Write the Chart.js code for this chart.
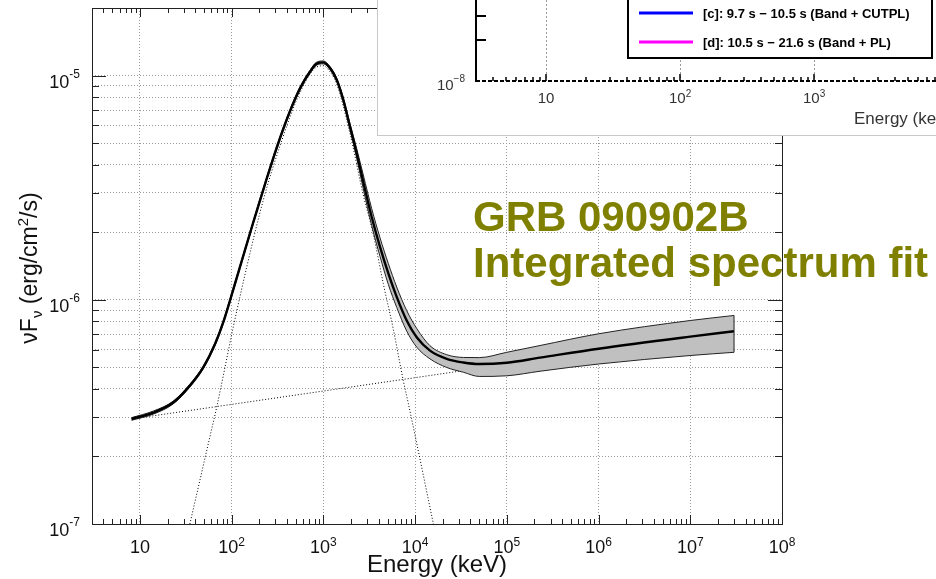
<!DOCTYPE html>
<html>
<head>
<meta charset="utf-8">
<title>GRB 090902B integrated spectrum fit</title>
<script src="https://cdn.jsdelivr.net/npm/chart.js@4.4.1/dist/chart.umd.min.js"></script>
<style>
  html, body { margin: 0; padding: 0; background: #fff; overflow: hidden; }
  #wrap { position: relative; width: 936px; height: 579px; }
  #main { position: absolute; left: 0; top: 0; }
  #insetBox { position: absolute; left: 377px; top: -1px; width: 600px; height: 135px;
              border: 1px solid #c8c8c8; background: #fff; overflow: hidden; }
</style>
</head>
<body>
<div id="wrap">
  <canvas id="main" width="936" height="579"></canvas>
  <div id="insetBox"><canvas id="inset" width="600" height="135"></canvas></div>
</div>
<script>
// energy in keV, nuFnu in erg/cm2/s
const totalE = [8.1, 14, 23, 35, 49, 66, 81, 104, 134, 172, 241, 336, 432, 556, 714, 845, 998, 1180, 1396,
  1648, 1950, 2307, 2723, 3362, 4143, 5104, 6299, 8094, 10400, 14520, 22100, 33570, 50000, 1e5, 2.3e5, 1e6, 1e7, 3e7];
const totalF = [2.94e-7, 3.14e-7, 3.48e-7, 4.14e-7, 4.99e-7, 6.36e-7, 7.94e-7, 1.11e-6, 1.574e-6, 2.216e-6, 3.47e-6,
  5.25e-6, 6.93e-6, 8.76e-6, 1.039e-5, 1.130e-5, 1.144e-5, 1.08e-5, 9.58e-6,
  7.79e-6, 5.92e-6, 4.50e-6, 3.35e-6, 2.34e-6, 1.72e-6, 1.31e-6, 1.03e-6, 8.08e-7, 6.80e-7, 5.93e-7, 5.45e-7,
  5.25e-7, 5.17e-7, 5.24e-7, 5.52e-7, 6.05e-7, 6.85e-7, 7.24e-7];
// 1 sigma butterfly, same energies
const upperF = [2.98e-7, 3.19e-7, 3.53e-7, 4.20e-7, 5.06e-7, 6.46e-7, 8.06e-7, 1.127e-6, 1.598e-6, 2.249e-6, 3.52e-6,
  5.33e-6, 7.03e-6, 8.89e-6, 1.055e-5, 1.147e-5, 1.161e-5, 1.096e-5, 9.74e-6,
  7.95e-6, 6.10e-6, 4.72e-6, 3.60e-6, 2.55e-6, 1.89e-6, 1.45e-6, 1.14e-6, 8.95e-7, 7.45e-7, 6.24e-7, 5.69e-7,
  5.53e-7, 5.52e-7, 5.83e-7, 6.25e-7, 7.05e-7, 8.08e-7, 8.51e-7];
const lowerF = [2.90e-7, 3.09e-7, 3.43e-7, 4.08e-7, 4.92e-7, 6.26e-7, 7.82e-7, 1.093e-6, 1.550e-6, 2.183e-6, 3.42e-6,
  5.17e-6, 6.83e-6, 8.63e-6, 1.023e-5, 1.113e-5, 1.127e-5, 1.064e-5, 9.42e-6,
  7.63e-6, 5.74e-6, 4.28e-6, 3.12e-6, 2.14e-6, 1.56e-6, 1.17e-6, 9.25e-7, 7.25e-7, 6.15e-7, 5.45e-7, 4.99e-7,
  4.75e-7, 4.55e-7, 4.58e-7, 4.80e-7, 5.17e-7, 5.64e-7, 5.83e-7];
// Band component (dotted)
const bandE = [35, 60.5, 68.6, 104, 146, 221, 336, 556, 845, 998, 1180, 1396, 1950, 2723, 3491, 4498, 5781, 7430, 8430, 15830];
const bandF = [1.0e-7, 2.65e-7, 3.31e-7, 7.54e-7, 1.40e-6, 2.78e-6, 4.85e-6, 8.40e-6, 1.091e-5, 1.105e-5, 1.04e-5,
  9.18e-6, 5.51e-6, 2.93e-6, 1.97e-6, 1.18e-6, 7.4e-7, 4.36e-7, 3.45e-7, 1.0e-7];
// power-law component (dotted)
const plE = [8.1, 3e7];
const plF = [2.94e-7, 7.24e-7];

const xDecades = [10, 1e2, 1e3, 1e4, 1e5, 1e6, 1e7, 1e8];
const xDecadeExp = ['', '2', '3', '4', '5', '6', '7', '8'];
const yDecades = [1e-7, 1e-6, 1e-5];
const yDecadeExp = ['-7', '-6', '-5'];
const xTitle = 'Energy (keV)';
const titleLines = ['GRB 090902B', 'Integrated spectrum fit'];

// piece of another figure lying over the top right corner
const insetLabels = ['[c]: 9.7 s \u2212 10.5 s (Band + CUTPL)', '[d]: 10.5 s \u2212 21.6 s (Band + PL)'];
const insetColors = ['#0000ff', '#ff00ff'];
const insetXDecades = [10, 1e2, 1e3, 1e4];
const insetXExp = ['', '2', '3', '4'];
const insetYDecades = [1e-8];
const insetYExp = ['\u22128'];

const FONT = "'Liberation Sans', Arial, Helvetica, sans-serif";
const GRID = '#9a9a9a';

function logTicks(min, max) {
  const out = [];
  for (let e = Math.floor(Math.log10(min)); e <= Math.ceil(Math.log10(max)); e++) {
    for (let k = 1; k < 10; k++) {
      const v = k * Math.pow(10, e);
      if (v >= min * 0.999 && v <= max * 1.001) out.push({ value: v, major: k === 1 });
    }
  }
  return out;
}

// "10" with a raised exponent
function powLabel(ctx, exp, x, y, size, supSize, rise, align) {
  ctx.font = size + 'px ' + FONT;
  const wb = ctx.measureText('10').width;
  ctx.font = supSize + 'px ' + FONT;
  const we = exp ? ctx.measureText(exp).width : 0;
  const x0 = align === 'center' ? x - (wb + we) / 2 : align === 'right' ? x - wb - we : x;
  ctx.textAlign = 'left';
  ctx.textBaseline = 'alphabetic';
  ctx.font = size + 'px ' + FONT;
  ctx.fillText('10', x0, y);
  if (exp) {
    ctx.font = supSize + 'px ' + FONT;
    ctx.fillText(exp, x0 + wb, y - rise);
  }
}

function line(ctx, x1, y1, x2, y2) {
  ctx.beginPath();
  ctx.moveTo(x1, y1);
  ctx.lineTo(x2, y2);
  ctx.stroke();
}

const pts = (xs, ys) => xs.map((x, i) => ({ x: x, y: ys[i] }));

const frame = {
  id: 'frame',
  afterDatasetsDraw(chart) {
    const { ctx, chartArea: a, scales: { x, y } } = chart;
    ctx.save();
    // close the butterfly at its high-energy end
    const up = chart.getDatasetMeta(1).data, lo = chart.getDatasetMeta(2).data;
    ctx.strokeStyle = '#222';
    ctx.lineWidth = 1;
    line(ctx, up[up.length - 1].x, up[up.length - 1].y, lo[lo.length - 1].x, lo[lo.length - 1].y);

    ctx.strokeStyle = '#222';
    ctx.lineWidth = 1;
    ctx.strokeRect(Math.round(a.left) + 0.5, Math.round(a.top) + 0.5,
      Math.round(a.right - a.left), Math.round(a.bottom - a.top));
    x.ticks.forEach(t => {
      const px = Math.round(x.getPixelForValue(t.value)) + 0.5;
      const len = t.major ? 9 : 5;
      line(ctx, px, a.bottom, px, a.bottom - len);
      line(ctx, px, a.top, px, a.top + len);
    });
    y.ticks.forEach(t => {
      const py = Math.round(y.getPixelForValue(t.value)) + 0.5;
      const len = t.major ? 14 : 7;
      line(ctx, a.left, py, a.left + len, py);
      line(ctx, a.right, py, a.right - len, py);
    });
    ctx.restore();
  },
  afterDraw(chart) {
    const { ctx, chartArea: a, scales: { x, y } } = chart;
    ctx.save();
    ctx.fillStyle = '#111';
    xDecades.forEach((v, i) => powLabel(ctx, xDecadeExp[i], x.getPixelForValue(v), a.bottom + 29, 18, 12, 7, 'center'));
    yDecades.forEach((v, i) => powLabel(ctx, yDecadeExp[i], a.left - 12, y.getPixelForValue(v) + 12, 18, 12, 10, 'right'));

    ctx.font = '24px ' + FONT;
    ctx.textAlign = 'center';
    ctx.fillText(xTitle, (a.left + a.right) / 2, 572);

    // y title: nu F_nu (erg/cm^2/s)
    const parts = [['\u03bdF', 23, 0], ['\u03bd', 15, 5], [' (erg/cm', 23, 0], ['2', 15, -9], ['/s)', 23, 0]];
    let w = 0;
    parts.forEach(p => { ctx.font = p[1] + 'px ' + FONT; w += ctx.measureText(p[0]).width; });
    ctx.translate(37, 268);
    ctx.rotate(-Math.PI / 2);
    ctx.textAlign = 'left';
    let off = -w / 2;
    parts.forEach(p => {
      ctx.font = p[1] + 'px ' + FONT;
      ctx.fillText(p[0], off, p[2]);
      off += ctx.measureText(p[0]).width;
    });
    ctx.setTransform(1, 0, 0, 1, 0, 0);

    ctx.fillStyle = '#808000';
    ctx.font = 'bold 42px ' + FONT;
    ctx.textAlign = 'left';
    ctx.fillText(titleLines[0], 473, 231);
    ctx.fillText(titleLines[1], 473, 277);
    ctx.restore();
  }
};

new Chart(document.getElementById('main'), {
  type: 'line',
  data: {
    datasets: [
      { label: 'Band + PL', data: pts(totalE, totalF), borderColor: '#000', borderWidth: 2.4,
        cubicInterpolationMode: 'monotone', fill: false },
      { label: 'upper', data: pts(totalE, upperF), borderColor: '#222', borderWidth: 1,
        cubicInterpolationMode: 'monotone', fill: false },
      { label: 'lower', data: pts(totalE, lowerF), borderColor: '#222', borderWidth: 1,
        cubicInterpolationMode: 'monotone', fill: '-1', backgroundColor: '#c0c0c0' },
      { label: 'Band', data: pts(bandE, bandF), borderColor: '#000', borderWidth: 1, borderDash: [1, 2],
        cubicInterpolationMode: 'monotone', fill: false },
      { label: 'PL', data: pts(plE, plF), borderColor: '#000', borderWidth: 1, borderDash: [1, 2], fill: false }
    ]
  },
  options: {
    responsive: false,
    animation: false,
    events: [],
    layout: { padding: { left: 0, top: 8, right: 154, bottom: 0 } },
    elements: { point: { radius: 0 } },
    plugins: { legend: { display: false }, tooltip: { enabled: false } },
    scales: {
      x: {
        type: 'logarithmic', min: 3, max: 1e8,
        afterFit(s) { s.height = 55; },
        afterBuildTicks(s) { s.ticks = logTicks(3, 1e8); },
        ticks: { display: false },
        grid: { drawTicks: false, color: c => (c.tick && c.tick.major) ? GRID : 'rgba(0,0,0,0)' },
        border: { display: false, dash: [1, 2] }
      },
      y: {
        type: 'logarithmic', min: 1e-7, max: 2e-5,
        afterFit(s) { s.width = 92; },
        afterBuildTicks(s) { s.ticks = logTicks(1e-7, 2e-5); },
        ticks: { display: false },
        grid: { drawTicks: false, color: GRID },
        border: { display: false, dash: [1, 2] }
      }
    }
  },
  plugins: [frame]
});

const insetDecor = {
  id: 'insetDecor',
  afterDraw(chart) {
    const { ctx, chartArea: a, scales: { x, y } } = chart;
    ctx.save();
    ctx.strokeStyle = '#000';
    ctx.lineWidth = 2;
    ctx.setLineDash([4, 2]);
    line(ctx, a.left, a.bottom, a.right, a.bottom);
    ctx.setLineDash([]);
    ctx.lineWidth = 1.5;
    x.ticks.forEach(t => {
      const px = Math.round(x.getPixelForValue(t.value));
      line(ctx, px, a.bottom, px, a.bottom - (t.major ? 7 : 4));
    });
    ctx.lineWidth = 2;
    line(ctx, a.left, 0, a.left, a.bottom + 1);
    y.ticks.forEach(t => {
      if (t.value <= 1.001e-8) return;
      const py = Math.round(y.getPixelForValue(t.value));
      line(ctx, a.left, py, a.left + 10, py);
    });

    ctx.fillStyle = '#333';
    insetXDecades.forEach((v, i) => powLabel(ctx, insetXExp[i], x.getPixelForValue(v), a.bottom + 22, 15, 10, 6, 'center'));
    insetYDecades.forEach((v, i) => powLabel(ctx, insetYExp[i], a.left - 11, y.getPixelForValue(v) + 9, 15, 10, 8, 'right'));
    ctx.font = '17px ' + FONT;
    ctx.textAlign = 'left';
    ctx.fillText(xTitle, 476, 124);

    // legend box
    ctx.fillStyle = '#fff';
    ctx.fillRect(250, -4, 304, 62);
    ctx.strokeStyle = '#000';
    ctx.lineWidth = 2;
    ctx.strokeRect(250, -4, 304, 62);
    chart.data.datasets.forEach((ds, i) => {
      const ly = 13 + i * 29;
      ctx.strokeStyle = ds.borderColor;
      ctx.lineWidth = 3;
      line(ctx, 261, ly, 315, ly);
      ctx.fillStyle = '#000';
      ctx.font = 'bold 13px ' + FONT;
      ctx.textBaseline = 'middle';
      ctx.fillText(ds.label, 325, ly + 1);
    });
    ctx.restore();
  }
};

new Chart(document.getElementById('inset'), {
  type: 'line',
  data: {
    datasets: insetLabels.map((l, i) => ({ label: l, data: [], borderColor: insetColors[i], borderWidth: 3 }))
  },
  options: {
    responsive: false,
    animation: false,
    events: [],
    layout: { padding: 0 },
    plugins: { legend: { display: false }, tooltip: { enabled: false } },
    scales: {
      x: {
        type: 'logarithmic', min: 3, max: 1.672e4,
        afterFit(s) { s.height = 54; },
        afterBuildTicks(s) { s.ticks = logTicks(3, 1.672e4); },
        ticks: { display: false },
        grid: { drawTicks: false, color: c => (c.tick && c.tick.major) ? GRID : 'rgba(0,0,0,0)' },
        border: { display: false, dash: [2, 2] }
      },
      y: {
        type: 'logarithmic', min: 1e-8, max: 3.94e-8,
        afterFit(s) { s.width = 98; },
        afterBuildTicks(s) { s.ticks = logTicks(1e-8, 3.94e-8); },
        ticks: { display: false },
        grid: { display: false },
        border: { display: false }
      }
    }
  },
  plugins: [insetDecor]
});
</script>
</body>
</html>
